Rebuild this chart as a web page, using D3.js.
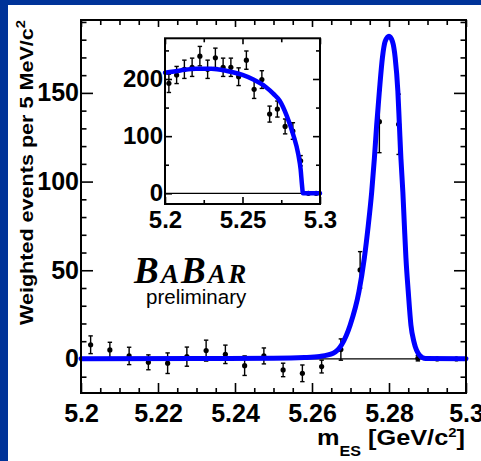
<!DOCTYPE html>
<html>
<head>
<meta charset="utf-8">
<script src="https://cdn.jsdelivr.net/npm/d3@7"></script>
<style>
  html, body { margin: 0; padding: 0; background: #ffffff; }
  svg { display: block; }
  text { font-family: "Liberation Sans", Arial, Helvetica, sans-serif; }
</style>
</head>
<body>
<svg id="chart" width="481" height="461"></svg>
<script>
// ---------------- data ----------------
// main plot: weighted events per 5 MeV/c^2
const mainX   = [5.2025,5.2075,5.2125,5.2175,5.2225,5.2275,5.2325,5.2375,5.2425,5.2475,5.2525,5.2575,5.2625,5.2675,5.2725,5.2775,5.2825,5.2875,5.2925,5.2975];
const mainY   = [8.0,5.1,1.7,-1.9,-2.4,1.3,4.7,2.6,-3.8,1.7,-6.2,-8.1,-4.3,5.3,50.2,133.8,132.3,0.4,0.0,0.0];
const mainErr = [5.0,4.3,4.9,4.2,5.8,5.4,5.9,5.2,5.5,4.5,3.8,4.7,3.6,6.0,10.3,17.5,17.0,1.5,0.6,0.6];

// main fit curve
const fitX = [5.200,5.230,5.250,5.258,5.262,5.2655,5.2677,5.2699,5.2722,5.2736,5.2746,5.2755,5.2762,5.2768,5.2775,5.2783,5.2790,5.2800,5.2809,5.2816,5.2823,5.2827,5.2831,5.2836,5.2840,5.2844,5.2850,5.2857,5.2865,5.2880,5.2895,5.300];
const fitY = [0.1,0.2,0.4,0.8,1.4,3.2,8.0,19,38,57,75,94,113,132,151,170,179,182,179,170,151,132,113,94,75,57,38,19,9.5,2.0,0.3,0.1];

// inset: weighted background events
const insetX   = mainX;
const insetY   = [192.4,207,217,220.5,240,217,237,220.5,220.5,204,233,182,199,138.6,147.4,117,109,57,0,0];
const insetErr = [16,15,16,16,17,16,17,16,16,15.5,16,16,15.5,14,14,13,14.5,9,1,1];

// inset fit curve
const insetFitX = [5.200,5.210,5.220,5.230,5.240,5.250,5.257,5.2650,5.270,5.274,5.2785,5.2828,5.2860,5.2875,5.2884,5.2890,5.300];
const insetFitY = [211,215,218,218,214,207,199,186,174,162,136,102,68,42,14,0,0];

// ticks & labels
const mainXMajor  = [5.20,5.22,5.24,5.26,5.28,5.30];
const mainXLabels = ["5.2","5.22","5.24","5.26","5.28","5.3"];
const mainYMajor  = [0,50,100,150];
const mainYLabels = ["0","50","100","150"];
const insetXMajor  = [5.20,5.25,5.30];
const insetXLabels = ["5.2","5.25","5.3"];
const insetXMinor  = [5.225,5.275];
const insetYMajor  = [0,100,200];
const insetYLabels = ["0","100","200"];
const insetYMinor  = [50,150,250];

// logo letters
const logoLetters = ["B","A","B","A","R"];
const logoBig     = [true,false,true,false,false];

// ---------------- drawing ----------------
const svg = d3.select("#chart");
const BLUE = "#0000ff";

svg.append("rect").attr("x",0).attr("y",0).attr("width",481).attr("height",461).attr("fill","#fff");
svg.append("rect").attr("x",0).attr("y",0).attr("width",8).attr("height",461).attr("fill","#003399");
svg.append("rect").attr("x",0).attr("y",0).attr("width",481).attr("height",5).attr("fill","#003399");

function drawPanel(cfg) {
  const g = svg.append("g");
  const x = d3.scaleLinear().domain(cfg.xDomain).range([cfg.left, cfg.right]);
  const y = d3.scaleLinear().domain(cfg.yDomain).range([cfg.bottom, cfg.top]);

  g.append("rect").attr("x",cfg.left).attr("y",cfg.top)
    .attr("width",cfg.right-cfg.left).attr("height",cfg.bottom-cfg.top).attr("fill","#fff");

  g.append("line").attr("x1",x(cfg.xDomain[0])).attr("x2",x(cfg.xDomain[1]))
    .attr("y1",y(0)).attr("y2",y(0)).attr("stroke","#000").attr("stroke-width",1.2);

  const fs = cfg.fontSize;
  function styleAxis(sel) {
    sel.select(".domain").remove();
    sel.selectAll(".tick line").attr("stroke","#000").attr("stroke-width",1.6);
    sel.selectAll(".tick text").attr("fill","#000").style("font-size",fs+"px").style("font-weight","bold");
  }
  const xMinor = cfg.xMinor, yMinor = cfg.yMinor;
  g.append("g").attr("transform",`translate(0,${cfg.bottom})`)
    .call(d3.axisBottom(x).tickValues(xMinor).tickSize(-cfg.xMinorLen).tickFormat("")).call(styleAxis);
  g.append("g").attr("transform",`translate(0,${cfg.top})`)
    .call(d3.axisTop(x).tickValues(xMinor).tickSize(-cfg.xMinorLen).tickFormat("")).call(styleAxis);
  g.append("g").attr("transform",`translate(${cfg.left},0)`)
    .call(d3.axisLeft(y).tickValues(yMinor).tickSize(-cfg.yMinorLen).tickFormat("")).call(styleAxis);
  g.append("g").attr("transform",`translate(${cfg.right},0)`)
    .call(d3.axisRight(y).tickValues(yMinor).tickSize(-cfg.yMinorLen).tickFormat("")).call(styleAxis);
  g.append("g").attr("transform",`translate(0,${cfg.bottom})`)
    .call(d3.axisBottom(x).tickValues(cfg.xMajor).tickSize(-cfg.xMajorLen)
      .tickPadding(cfg.xPad).tickFormat((d,i)=>cfg.xLabels[i])).call(styleAxis);
  g.append("g").attr("transform",`translate(0,${cfg.top})`)
    .call(d3.axisTop(x).tickValues(cfg.xMajor).tickSize(-cfg.xMajorTopLen).tickFormat("")).call(styleAxis);
  g.append("g").attr("transform",`translate(${cfg.left},0)`)
    .call(d3.axisLeft(y).tickValues(cfg.yMajor).tickSize(-cfg.yMajorLen)
      .tickPadding(cfg.yPad).tickFormat((d,i)=>cfg.yLabels[i])).call(styleAxis);
  g.append("g").attr("transform",`translate(${cfg.right},0)`)
    .call(d3.axisRight(y).tickValues(cfg.yMajor).tickSize(-cfg.yMajorLen).tickFormat("")).call(styleAxis);

  const cap = 2.2;
  const eb = g.append("g").attr("stroke","#000").attr("stroke-width",1.4).attr("fill","none");
  cfg.px.forEach((d,i) => {
    const cx = x(d), y1 = y(cfg.py[i]+cfg.pe[i]), y2 = y(cfg.py[i]-cfg.pe[i]);
    eb.append("line").attr("x1",cx).attr("x2",cx).attr("y1",y1).attr("y2",y2);
    eb.append("line").attr("x1",cx-cap).attr("x2",cx+cap).attr("y1",y1).attr("y2",y1);
    eb.append("line").attr("x1",cx-cap).attr("x2",cx+cap).attr("y1",y2).attr("y2",y2);
  });
  g.append("g").selectAll("circle").data(cfg.px).join("circle")
    .attr("cx",d=>x(d)).attr("cy",(d,i)=>y(cfg.py[i])).attr("r",2.6).attr("fill","#000");

  const line = d3.line().x(d=>x(d[0])).y(d=>y(d[1])).curve(d3.curveMonotoneX);
  g.append("path").datum(cfg.fx.map((d,i)=>[d,cfg.fy[i]]))
    .attr("d",line).attr("fill","none").attr("stroke",BLUE)
    .attr("stroke-width",cfg.lineW).attr("stroke-linejoin","round").attr("stroke-linecap","round");

  g.append("rect").attr("x",cfg.left).attr("y",cfg.top)
    .attr("width",cfg.right-cfg.left).attr("height",cfg.bottom-cfg.top)
    .attr("fill","none").attr("stroke","#000").attr("stroke-width",2);
  return {x, y, g};
}

const mainMinorX = d3.range(0,21).map(i => +(5.2 + i*0.005).toFixed(4)).filter(v => !mainXMajor.some(m => Math.abs(m-v)<1e-6));
const mainMinorY = d3.range(-10,191,10).filter(v => v % 50 !== 0);
drawPanel({
  left:81, right:466, top:20, bottom:393,
  xDomain:[5.2,5.3], yDomain:[-19.2,191.1],
  xMajor:mainXMajor, xLabels:mainXLabels, xMinor:mainMinorX,
  yMajor:mainYMajor, yLabels:mainYLabels, yMinor:mainMinorY,
  xMajorLen:10, xMajorTopLen:7, xMinorLen:5, yMajorLen:12, yMinorLen:5.5,
  xPad:11, yPad:2, fontSize:25,
  px:mainX, py:mainY, pe:mainErr, fx:fitX, fy:fitY, lineW:5
});

drawPanel({
  left:165, right:320, top:38.3, bottom:204,
  xDomain:[5.2,5.3], yDomain:[-18.7,271.2],
  xMajor:insetXMajor, xLabels:insetXLabels, xMinor:insetXMinor,
  yMajor:insetYMajor, yLabels:insetYLabels, yMinor:insetYMinor,
  xMajorLen:7, xMajorTopLen:6, xMinorLen:4, yMajorLen:7, yMinorLen:4,
  xPad:7, yPad:2, fontSize:24,
  px:insetX, py:insetY, pe:insetErr, fx:insetFitX, fy:insetFitY, lineW:4.5
});

// axis titles
const yt = svg.append("text")
  .attr("transform","translate(33,325) rotate(-90)")
  .attr("text-anchor","start")
  .style("font-size","19px").style("font-weight","bold").attr("fill","#000")
  .attr("textLength",305).attr("lengthAdjust","spacingAndGlyphs");
yt.append("tspan").text("Weighted events per 5 MeV/c");
yt.append("tspan").attr("dy",-8).style("font-size","13px").text("2");

const xt = svg.append("text")
  .attr("x",317).attr("y",445)
  .style("font-size","22px").style("font-weight","bold").attr("fill","#000")
  .attr("textLength",148).attr("lengthAdjust","spacingAndGlyphs");
xt.append("tspan").text("m");
xt.append("tspan").attr("dy",11).style("font-size","14px").text("ES");
xt.append("tspan").attr("dy",-11).text(" [GeV/c");
xt.append("tspan").attr("dy",-8).style("font-size","13px").text("2");
xt.append("tspan").attr("dy",8).text("]");

// BaBar logo: one text per letter, laid out left to right
let lx = 134;
logoLetters.forEach((ch, i) => {
  const t = svg.append("text").attr("x",lx).attr("y",283)
    .style("font-family","'Liberation Serif','Times New Roman',serif")
    .style("font-style","italic").style("font-weight","bold")
    .style("font-size", logoBig[i] ? "37px" : "27px")
    .attr("fill","#000").text(ch);
  lx += t.node().getComputedTextLength() + 2.2;
});
svg.append("text").attr("x",146).attr("y",304)
  .style("font-size","20.5px").attr("fill","#000").text("preliminary");
</script>
</body>
</html>
